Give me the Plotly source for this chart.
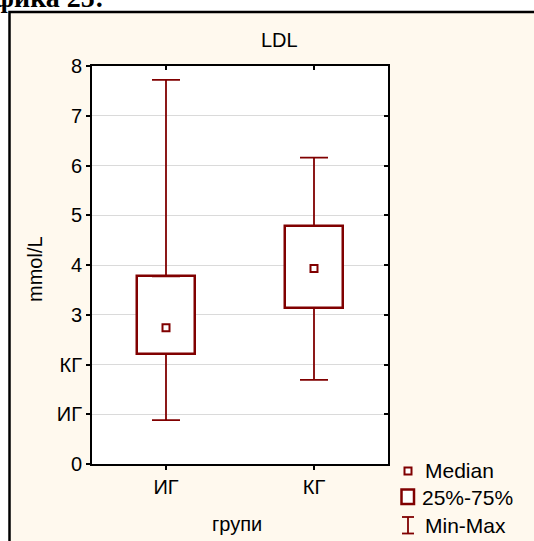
import plotly.graph_objects as go

# LDL by group: min, quartiles, median, max (mmol/L)
groups = ["ИГ", "КГ"]
ldl_min = [0.88, 1.69]
ldl_q1 = [2.21, 3.14]
ldl_median = [2.74, 3.93]
ldl_q3 = [3.77, 4.78]
ldl_max = [7.72, 6.16]

y_tick_values = [0, 1, 2, 3, 4, 5, 6, 7, 8]
y_tick_labels = ["0", "ИГ", "КГ", "3", "4", "5", "6", "7", "8"]

legend_labels = ["Median", "25%-75%", "Min-Max"]

W, H = 534, 541
ML, MR, MT, MB = 92, 146, 66, 77
PW, PH = W - ML - MR, H - MT - MB

RED = "#800000"
CREAM = "#FFF9EE"
FONT = "Liberation Sans"


def xp(px):
    return (px - ML) / PW


def yp(py):
    return (H - MB - py) / PH


box_height = [hi - lo for hi, lo in zip(ldl_q3, ldl_q1)]
upper_len = [mx - hi for mx, hi in zip(ldl_max, ldl_q3)]
lower_len = [lo - mn for lo, mn in zip(ldl_q1, ldl_min)]
zeros = [0] * len(groups)

fig = go.Figure()

# 25%-75% boxes
fig.add_trace(go.Bar(
    x=groups, y=box_height, base=ldl_q1, width=0.39,
    marker=dict(color="white", line=dict(color=RED, width=2.5)),
    showlegend=False, hoverinfo="skip",
))

# whiskers q3 -> max and q1 -> min
fig.add_trace(go.Scatter(
    x=groups, y=ldl_q3, mode="markers", marker=dict(size=1, opacity=0),
    error_y=dict(type="data", symmetric=False, array=upper_len, arrayminus=zeros,
                 width=14, thickness=1.8, color=RED),
    showlegend=False, hoverinfo="skip",
))
fig.add_trace(go.Scatter(
    x=groups, y=ldl_q1, mode="markers", marker=dict(size=1, opacity=0),
    error_y=dict(type="data", symmetric=False, array=zeros, arrayminus=lower_len,
                 width=14, thickness=1.8, color=RED),
    showlegend=False, hoverinfo="skip",
))

# medians
fig.add_trace(go.Scatter(
    x=groups, y=ldl_median, mode="markers",
    marker=dict(symbol="square", size=7, color="white", line=dict(color=RED, width=2)),
    showlegend=False, hoverinfo="skip",
))

# helper trace so the mirrored (inside-tick) axes get drawn
fig.add_trace(go.Scatter(x=[None], y=[None], xaxis="x2", yaxis="y2",
                         showlegend=False, hoverinfo="skip"))

shapes = [
    # cream panel with black frame
    dict(type="rect", xref="paper", yref="paper", layer="below",
         x0=xp(9.5), x1=xp(560), y0=yp(570), y1=yp(12),
         fillcolor=CREAM, line=dict(color="black", width=2.5)),
    # white plotting area
    dict(type="rect", xref="paper", yref="paper", layer="below",
         x0=0, x1=1, y0=0, y1=1, fillcolor="white", line=dict(width=0)),
    # legend symbols
    dict(type="rect", xref="paper", yref="paper",
         x0=xp(404.5), x1=xp(411.5), y0=yp(474.5), y1=yp(467.5),
         fillcolor="white", line=dict(color=RED, width=2)),
    dict(type="rect", xref="paper", yref="paper",
         x0=xp(401.5), x1=xp(414), y0=yp(504), y1=yp(489.5),
         fillcolor="white", line=dict(color=RED, width=2.5)),
    dict(type="line", xref="paper", yref="paper",
         x0=xp(408), x1=xp(408), y0=yp(533.5), y1=yp(517), line=dict(color=RED, width=1.8)),
    dict(type="line", xref="paper", yref="paper",
         x0=xp(402), x1=xp(414), y0=yp(517), y1=yp(517), line=dict(color=RED, width=1.8)),
    dict(type="line", xref="paper", yref="paper",
         x0=xp(402), x1=xp(414), y0=yp(533.5), y1=yp(533.5), line=dict(color=RED, width=1.8)),
]

annotations = [
    dict(text="<b>Графика 25:</b>", xref="paper", yref="paper", x=xp(106), y=yp(-2),
         xanchor="right", yanchor="middle", showarrow=False,
         font=dict(family="Liberation Serif", size=28, color="black")),
    dict(text="LDL", xref="paper", yref="paper", x=xp(279), y=yp(40),
         xanchor="center", yanchor="middle", showarrow=False,
         font=dict(family=FONT, size=20, color="black")),
    dict(text="mmol/L", xref="paper", yref="paper", x=xp(35), y=yp(269),
         xanchor="center", yanchor="middle", textangle=-90, showarrow=False,
         font=dict(family=FONT, size=20, color="black")),
    dict(text="групи", xref="paper", yref="paper", x=xp(237), y=yp(524),
         xanchor="center", yanchor="middle", showarrow=False,
         font=dict(family=FONT, size=20, color="black")),
]
for label, lx, ly in zip(legend_labels, [423, 420, 423], [471, 497, 525]):
    annotations.append(dict(text=label, xref="paper", yref="paper", x=xp(lx), y=yp(ly),
                            xanchor="left", yanchor="middle", showarrow=False,
                            font=dict(family=FONT, size=21, color="black")))

fig.update_layout(
    width=W, height=H, autosize=False,
    margin=dict(l=ML, r=MR, t=MT, b=MB, pad=0),
    paper_bgcolor="white", plot_bgcolor="white",
    font=dict(family=FONT, size=20, color="black"),
    showlegend=False,
    bargap=0,
    xaxis=dict(
        type="category", range=[-0.5, 1.5],
        showline=True, linecolor="black", linewidth=2, mirror=True,
        ticks="outside", ticklen=4, tickwidth=1.5, tickcolor="black",
        showgrid=False, zeroline=False,
        tickfont=dict(family=FONT, size=20, color="black"),
        fixedrange=True,
    ),
    yaxis=dict(
        range=[0, 8], tickvals=y_tick_values, ticktext=y_tick_labels,
        showline=True, linecolor="black", linewidth=2, mirror=True,
        ticks="outside", ticklen=4, tickwidth=1.5, tickcolor="black",
        showgrid=True, gridcolor="#DADADA", gridwidth=1, zeroline=False,
        tickfont=dict(family=FONT, size=20, color="black"),
        fixedrange=True,
    ),
    xaxis2=dict(
        overlaying="x", side="top", range=[-0.5, 1.5], tickvals=[0, 1],
        showticklabels=False, ticks="inside", ticklen=4, tickwidth=1.5,
        tickcolor="black", showgrid=False, zeroline=False, showline=False,
        fixedrange=True,
    ),
    yaxis2=dict(
        overlaying="y", side="right", range=[0, 8], tickvals=y_tick_values,
        showticklabels=False, ticks="inside", ticklen=4, tickwidth=1.5,
        tickcolor="black", showgrid=False, zeroline=False, showline=False,
        fixedrange=True,
    ),
    shapes=shapes,
    annotations=annotations,
)

fig.write_html("out.html", config={"displayModeBar": False})
